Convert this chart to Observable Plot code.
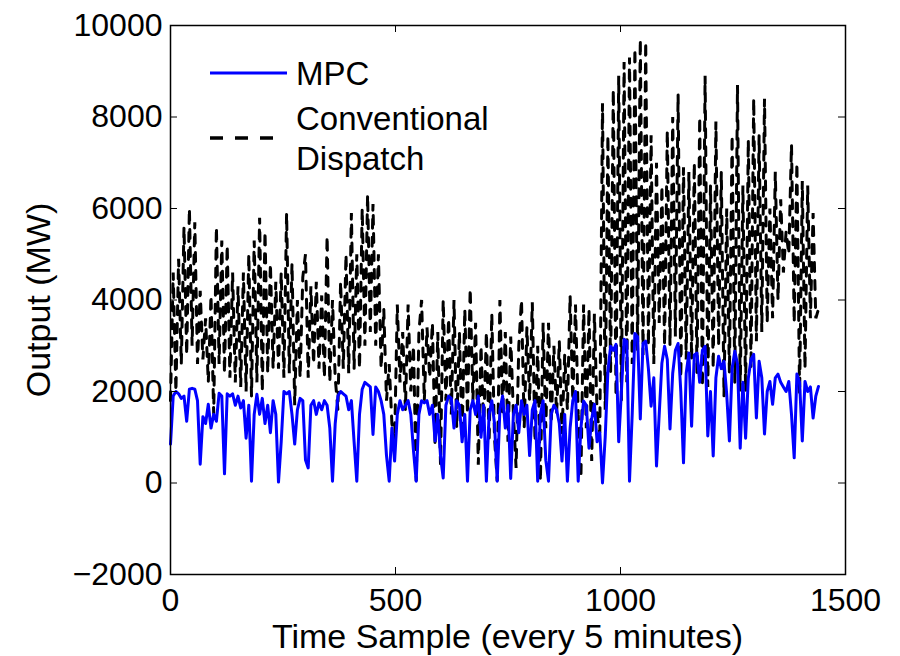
<!DOCTYPE html>
<html>
<head>
<meta charset="utf-8">
<script src="https://cdn.jsdelivr.net/npm/d3@7"></script>
<script src="https://cdn.jsdelivr.net/npm/@observablehq/plot@0.6"></script>
<style>
  html, body { margin: 0; padding: 0; background: #fff; }
  #wrap { position: relative; width: 900px; height: 656px; font-family: "Liberation Sans", Arial, Helvetica, sans-serif; }
  #wrap svg { display: block; }
  .lab { position: absolute; font-size: 34px; color: #000; white-space: nowrap; line-height: 1; }
</style>
</head>
<body>
<div id="wrap"></div>
<script>
// ---- data ----
const seriesNames = ["MPC", "Conventional Dispatch"];
const xTicks = [0, 500, 1000, 1500];
const yTicks = [-2000, 0, 2000, 4000, 6000, 8000, 10000];
const sampleStep = 6; // time samples between readings

const mpc = [
  850, 1900, 2000, 1950, 1850, 1900, 1350, 2050, 2070, 2050,
  1800, 410, 1450, 1300, 1720, 1200, 1500, 1350, 1960, 1900,
  200, 1950, 1900, 1950, 1700, 1900, 1640, 1800, 980, 1700,
  40, 1500, 1940, 1500, 1850, 1300, 1700, 1100, 1800, 1500,
  20, 900, 2000, 1950, 2000, 1500, 850, 1600, 1850, 1800,
  500, 330, 1700, 1800, 1500, 1750, 1600, 1800, 1700, 1200,
  40, 1300, 1900, 2000, 1950, 1900, 1600, 1800, 900, 40,
  1500, 2050, 2200, 2150, 2100, 1060, 2100, 2000, 1800, 1500,
  600, 40, 1200, 480, 1500, 1800, 1600, 1700, 1800, 1500,
  700, 40, 1500, 1800, 1750, 1800, 1500, 1700, 920, 1500,
  600, 110, 1700, 1900, 1850, 1200, 1800, 1700, 900, 1500,
  40, 1600, 1800, 1500, 1900, 1000, 1700, 40, 1500, 1800,
  1300, 40, 1600, 1900, 1200, 1700, 100, 1500, 1700, 1100,
  1800, 1500, 1700, 600, 1600, 1800, 40, 1500, 1800, 500,
  40, 1500, 1700, 1600, 1300, 480, 1500, 40, 1200, 1800,
  2000, 40, 1200, 1790, 1700, 760, 1400, 1720, 900, 1100,
  0, 1000, 2440, 2990, 2900, 3030, 900, 2000, 3140, 3100,
  40, 1500, 3270, 3200, 1400, 3050, 3100, 2500, 1680, 2300,
  370, 1500, 2620, 2990, 2700, 1180, 2400, 2900, 3050, 2000,
  440, 2400, 2840, 1240, 2800, 2840, 2200, 2900, 2990, 1030,
  2000, 590, 2300, 2770, 2500, 2660, 1940, 920, 2500, 2880,
  2600, 760, 2200, 980, 2290, 2700, 2810, 1420, 2660, 2300,
  1070, 2000, 2220, 1720, 2300, 2380, 2200, 2100, 2000, 2220,
  1500, 550, 2380, 2200, 920, 2220, 2000, 2100, 1420, 1900,
  2110
];

const conventional = [
  1800, 4600, 2000, 4900, 2600, 5600, 2800, 6000, 3000, 5700,
  2600, 4200, 2700, 3600, 2200, 4100, 1500, 5600, 2600, 5300,
  2400, 5200, 2300, 4600, 2200, 4300, 2100, 4600, 2000, 5000,
  1900, 5300, 2200, 5800, 2000, 5500, 2400, 4800, 2500, 4400,
  2500, 4600, 2300, 5900, 2400, 4800, 1700, 4000, 2300, 4500,
  5000, 2300, 4300, 2600, 4400, 2500, 4100, 2300, 5400, 2200,
  4000, 2300, 1600, 4400, 2500, 5000, 2400, 5900, 2500, 5000,
  2500, 6000, 3000, 6300, 3300, 6100, 3000, 5000, 2500, 3800,
  1800, 2600, 1300, 900, 3900, 2200, 3300, 1600, 3900, 2000,
  3000, 40, 3300, 4000, 1800, 3400, 2300, 3500, 800, 3300,
  400, 4000, 1800, 3600, 1500, 4000, 1200, 3300, 1000, 3800,
  1500, 4250, 1800, 3500, 400, 3000, 1200, 3300, 900, 3700,
  1000, 40, 4000, 1500, 3300, 900, 3200, 1500, 330, 3000,
  4000, 1200, 3400, 1800, 3950, 900, 3000, 40, 3500, 1200,
  3500, 1300, 3000, 1500, 3100, 1070, 2800, 1600, 4100, 1800,
  3900, 1500, 110, 3900, 1200, 3800, 480, 3700, 1500, 1100,
  8300, 1600, 7600, 2400, 8600, 1900, 8900, 1800, 9200, 2200,
  9300, 2600, 9500, 2900, 9700, 2800, 9650, 3000, 7600, 2600,
  7000, 3500, 6500, 3000, 7700, 3000, 8000, 3200, 8500, 2300,
  6900, 2700, 6800, 2700, 7000, 2400, 8000, 2100, 8900, 2100,
  6500, 2500, 7900, 3000, 6800, 1900, 6000, 2400, 7600, 2200,
  8700, 2000, 6500, 2000, 7500, 2500, 8400, 3100, 7600, 3300,
  8400, 3500, 6000, 3600, 6800, 4000, 6200, 4600, 5500, 5000,
  7400, 3500, 7000, 1940, 6600, 2500, 6500, 3600, 5900, 3600,
  3800
];

const mpcData = mpc.map((v, i) => ({t: i * sampleStep, v}));
const convData = conventional.map((v, i) => ({t: i * sampleStep, v}));

// ---- layout ----
const W = 900, H = 656;
const mL = 170, mR = 55, mT = 25, mB = 82;
const innerW = W - mL - mR, innerH = H - mT - mB;
const tickLen = 7;
const fontStack = '"Liberation Sans", Arial, Helvetica, sans-serif';

const chart = Plot.plot({
  width: W,
  height: H,
  marginLeft: mL,
  marginRight: mR,
  marginTop: mT,
  marginBottom: mB,
  style: {fontFamily: fontStack, background: "#fff", color: "#000"},
  x: {domain: [0, 1500]},
  y: {domain: [-2000, 10000]},
  marks: [
    Plot.line(convData, {x: "t", y: "v", stroke: "#000", strokeWidth: 3, strokeDasharray: "9,9", strokeLinejoin: "miter"}),
    Plot.line(mpcData, {x: "t", y: "v", stroke: "#0000ff", strokeWidth: 3, strokeLinejoin: "round"}),
    Plot.frame({stroke: "#000", strokeWidth: 1.5}),
    // inward ticks, MATLAB style
    Plot.ruleX(xTicks, {x: d => d, insetTop: innerH - tickLen, stroke: "#000", strokeWidth: 1}),
    Plot.ruleX(xTicks, {x: d => d, insetBottom: innerH - tickLen, stroke: "#000", strokeWidth: 1}),
    Plot.ruleY(yTicks, {y: d => d, insetRight: innerW - tickLen, stroke: "#000", strokeWidth: 1}),
    Plot.ruleY(yTicks, {y: d => d, insetLeft: innerW - tickLen, stroke: "#000", strokeWidth: 1}),
    Plot.axisX(xTicks, {anchor: "bottom", tickSize: 0, tickPadding: 14, fontSize: 32, label: null, tickFormat: d3.format("d")}),
    Plot.axisY(yTicks, {anchor: "left", tickSize: 0, tickPadding: 8, fontSize: 32, label: null, tickFormat: d3.format("d")})
  ]
});

const wrap = document.getElementById("wrap");
wrap.appendChild(chart);

// axis titles
const xl = document.createElement("div");
xl.className = "lab";
xl.textContent = "Time Sample (every 5 minutes)";
xl.style.left = (mL + innerW / 2) + "px";
xl.style.top = "636px";
xl.style.transform = "translate(-50%, -50%)";
wrap.appendChild(xl);

const yl = document.createElement("div");
yl.className = "lab";
yl.textContent = "Output (MW)";
yl.style.left = "38px";
yl.style.top = (mT + innerH / 2) + "px";
yl.style.transform = "translate(-50%, -50%) rotate(-90deg)";
wrap.appendChild(yl);

// legend (inside the axes, no box)
const leg = d3.select(wrap).append("svg")
  .attr("width", 320).attr("height", 130)
  .style("position", "absolute").style("left", "200px").style("top", "50px")
  .style("font-family", fontStack);
leg.append("line").attr("x1", 10).attr("x2", 87).attr("y1", 23).attr("y2", 23)
  .attr("stroke", "#0000ff").attr("stroke-width", 3);
leg.append("text").attr("x", 96).attr("y", 23).attr("dy", "0.36em")
  .attr("font-size", 33).text(seriesNames[0]);
leg.append("line").attr("x1", 10).attr("x2", 76).attr("y1", 88).attr("y2", 88)
  .attr("stroke", "#000").attr("stroke-width", 3.5).attr("stroke-dasharray", "13,12");
leg.append("text").attr("x", 96).attr("y", 68).attr("dy", "0.36em")
  .attr("font-size", 33).text("Conventional");
leg.append("text").attr("x", 96).attr("y", 108).attr("dy", "0.36em")
  .attr("font-size", 33).text("Dispatch");
</script>
</body>
</html>
